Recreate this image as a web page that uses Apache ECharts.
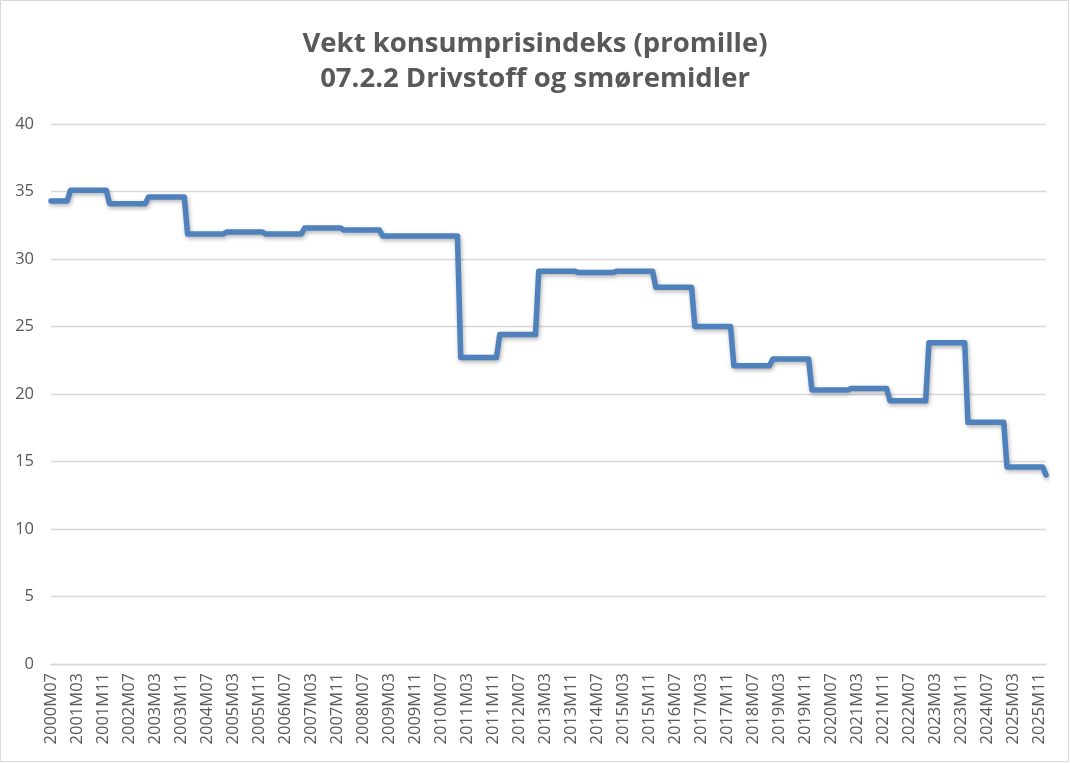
<!DOCTYPE html>
<html>
<head>
<meta charset="utf-8">
<script src="https://cdn.jsdelivr.net/npm/echarts@6/dist/echarts.min.js"></script>
<style>
html,body{margin:0;padding:0;background:#fff;}
#chart{width:1070px;height:763px;}
</style>
</head>
<body>
<div id="chart"></div>
<script>
// Weight (promille) per year; series runs monthly from 2000M07 to 2026M01
const years = [2000,2001,2002,2003,2004,2005,2006,2007,2008,2009,2010,2011,2012,2013,2014,2015,2016,2017,2018,2019,2020,2021,2022,2023,2024,2025,2026];
const weights = [34.3,35.1,34.1,34.6,31.85,32.0,31.85,32.3,32.15,31.7,31.7,22.7,24.4,29.1,29.0,29.1,27.9,25.0,22.1,22.6,20.3,20.4,19.5,23.8,17.9,14.6,14.0];
const startYear = 2000, startMonth = 7, endYear = 2026, endMonth = 1;
const titleLines = ['Vekt konsumprisindeks (promille)', '07.2.2 Drivstoff og smøremidler'];
const yTicks = {min: 0, max: 40, interval: 5};

const categories = [];
const values = [];
for (let y = startYear, m = startMonth; y < endYear || (y === endYear && m <= endMonth); ) {
  categories.push(y + 'M' + String(m).padStart(2, '0'));
  values.push(weights[years.indexOf(y)]);
  m++; if (m > 12) { m = 1; y++; }
}

const chart = echarts.init(document.getElementById('chart'), null, {renderer: 'canvas'});
chart.setOption({
  animation: false,
  backgroundColor: '#ffffff',
  title: {
    text: titleLines.join('\n'),
    left: 'center',
    top: 22,
    textStyle: {fontFamily: 'Open Sans', fontWeight: 'bold', fontSize: 27.5, color: '#595959', lineHeight: 35}
  },
  graphic: [{
    type: 'rect', shape: {x: 0.5, y: 0.5, width: 1068, height: 761},
    style: {fill: 'none', stroke: '#d9d9d9', lineWidth: 1}, silent: true
  }],
  grid: {left: 51, right: 24, top: 124, bottom: 99, containLabel: false},
  xAxis: {
    type: 'category',
    data: categories,
    boundaryGap: false,
    axisLine: {show: true, lineStyle: {color: '#d9d9d9', width: 1.3}},
    axisTick: {show: false},
    axisLabel: {interval: 7, rotate: 90, margin: 9, fontFamily: 'Open Sans', fontSize: 16.5, color: '#595959'},
    splitLine: {show: false}
  },
  yAxis: {
    type: 'value',
    min: yTicks.min, max: yTicks.max, interval: yTicks.interval,
    axisLine: {show: false},
    axisTick: {show: false},
    axisLabel: {margin: 17, fontFamily: 'Open Sans', fontSize: 16.5, color: '#595959'},
    splitLine: {lineStyle: {color: '#d9d9d9', width: 1.3}}
  },
  series: [{
    type: 'line',
    data: values,
    showSymbol: false,
    symbol: 'none',
    lineStyle: {color: '#4f81bd', width: 5.5, cap: 'round', join: 'round',
      shadowColor: 'rgba(0,0,0,0.3)', shadowBlur: 4, shadowOffsetX: 1, shadowOffsetY: 2}
  }]
});
</script>
</body>
</html>
